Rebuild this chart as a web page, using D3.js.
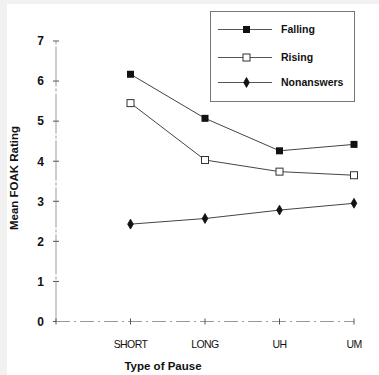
<!DOCTYPE html>
<html>
<head>
<meta charset="utf-8">
<script src="https://cdnjs.cloudflare.com/ajax/libs/d3/7.8.5/d3.min.js"></script>
<style>
  body { margin: 0; background: #f1f1f1; }
  svg { display: block; }
  text { font-family: "Liberation Sans", Arial, sans-serif; fill: #111; }
</style>
</head>
<body>
<svg id="chart" width="379" height="375"></svg>
<script>
// data
const categories = ["SHORT", "LONG", "UH", "UM"];
const falling = [6.17, 5.07, 4.26, 4.42];
const rising = [5.45, 4.03, 3.74, 3.65];
const nonanswers = [2.43, 2.57, 2.78, 2.95];
const yTicks = [0, 1, 2, 3, 4, 5, 6, 7];
const seriesNames = ["Falling", "Rising", "Nonanswers"];

const svg = d3.select("#chart");

// white page area
svg.append("rect").attr("x", 7).attr("y", 4).attr("width", 372).attr("height", 371).attr("fill", "#fff");

// x: slot 0 is the origin, categories sit at 1..4
const x = d3.scaleLinear().domain([0, 4]).range([56, 354]);
const y = d3.scaleLinear().domain([0, 7]).range([321.5, 41]);

// y axis
const yAxis = svg.append("g").attr("transform", "translate(56,0)");
yAxis.append("line")
    .attr("y1", y(0)).attr("y2", y(7))
    .attr("stroke", "#999").attr("stroke-width", 1)
    .attr("stroke-dasharray", "40,2,3,2");
yAxis.selectAll(".tick").data(yTicks).join("line")
    .attr("x1", -3).attr("x2", 3)
    .attr("y1", d => y(d)).attr("y2", d => y(d))
    .attr("stroke", "#555");
yAxis.selectAll(".lab").data(yTicks).join("text")
    .attr("x", -12).attr("y", d => y(d)).attr("dy", "0.36em")
    .attr("text-anchor", "end")
    .attr("font-size", 12).attr("font-weight", "bold")
    .text(d => d);

// x axis
const xAxis = svg.append("g").attr("transform", "translate(0," + y(0) + ")");
xAxis.append("line")
    .attr("x1", x(0)).attr("x2", x(4))
    .attr("stroke", "#999").attr("stroke-width", 1)
    .attr("stroke-dasharray", "14,4,2,4");
xAxis.selectAll(".tick").data(d3.range(0, 5)).join("line")
    .attr("x1", d => x(d)).attr("x2", d => x(d))
    .attr("y1", -3).attr("y2", 3)
    .attr("stroke", "#555");
xAxis.selectAll(".lab").data(categories).join("text")
    .attr("x", (d, i) => x(i + 1)).attr("y", 26)
    .attr("text-anchor", "middle")
    .attr("font-size", 10.5).attr("letter-spacing", "-0.6")
    .text(d => d);

// axis titles
svg.append("text")
    .attr("x", 163).attr("y", 370)
    .attr("text-anchor", "middle")
    .attr("font-size", 11.5).attr("font-weight", "bold")
    .text("Type of Pause");
svg.append("text")
    .attr("transform", "translate(18,178) rotate(-90)")
    .attr("text-anchor", "middle")
    .attr("font-size", 11.5).attr("font-weight", "bold")
    .text("Mean FOAK Rating");

// series
const line = d3.line().x((d, i) => x(i + 1)).y(d => y(d));
const allSeries = [falling, rising, nonanswers];

function drawMarker(g, kind, cx, cy) {
    if (kind === 0) {
        g.append("rect").attr("x", cx - 3.5).attr("y", cy - 3.5).attr("width", 7).attr("height", 7)
            .attr("fill", "#111");
    } else if (kind === 1) {
        g.append("rect").attr("x", cx - 3.5).attr("y", cy - 3.5).attr("width", 7).attr("height", 7)
            .attr("fill", "#fff").attr("stroke", "#333").attr("stroke-width", 1);
    } else {
        g.append("path")
            .attr("d", d3.symbol(d3.symbolDiamond, 28)())
            .attr("transform", "translate(" + cx + "," + cy + ")")
            .attr("fill", "#111").attr("stroke", "#111").attr("stroke-width", 0.8)
            .attr("stroke-linejoin", "round");
    }
}

allSeries.forEach((vals, k) => {
    svg.append("path").datum(vals)
        .attr("d", line)
        .attr("fill", "none").attr("stroke", "#444").attr("stroke-width", 1);
    const g = svg.append("g");
    vals.forEach((v, i) => drawMarker(g, k, x(i + 1), y(v)));
});

// legend
const legend = svg.append("g");
legend.append("rect")
    .attr("x", 210.5).attr("y", 11.5).attr("width", 144).attr("height", 90)
    .attr("fill", "#fff").attr("stroke", "#777").attr("stroke-width", 1);
seriesNames.forEach((name, k) => {
    const ly = [29.5, 57.5, 82.5][k];
    legend.append("line")
        .attr("x1", 218).attr("x2", 272).attr("y1", ly).attr("y2", ly)
        .attr("stroke", "#555").attr("stroke-width", 1);
    drawMarker(legend, k, 246.5, ly);
    legend.append("text")
        .attr("x", 281).attr("y", ly).attr("dy", "0.36em")
        .attr("font-size", 10.5).attr("font-weight", "bold")
        .text(name);
});
</script>
</body>
</html>
